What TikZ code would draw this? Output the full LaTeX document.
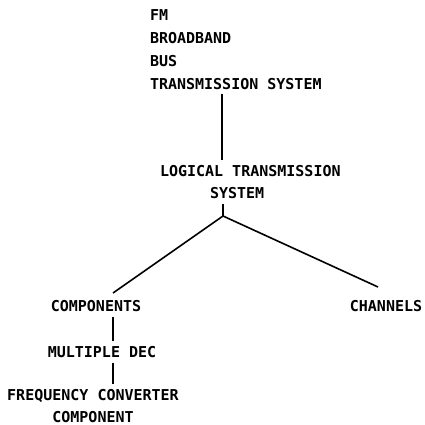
\documentclass[tikz,border=0pt]{standalone}
\usepackage{fontspec}
\newfontfamily\tymono{DejaVu Sans Mono Bold}
\usetikzlibrary{calc}

\tikzset{lbl/.style={font=\tymono\fontsize{15}{22.7}\selectfont, inner sep=0pt, outer sep=5pt}}

\begin{document}
\begin{tikzpicture}[x=1pt,y=-1pt,line width=1.6pt]
        \useasboundingbox (0,0) rectangle (425,425);
        % routine for labels
        \node[lbl,align=left,anchor=north west] (fm) at (145,5) {FM\\BROADBAND\\BUS\\TRANSMISSION SYSTEM};
        \node[lbl,align=left,anchor=north west] (lts) at (155,160) {LOGICAL TRANSMISSION\\\hspace*{50pt}SYSTEM};
        \node[lbl] (comp) at (96,306) {COMPONENTS};
        \node[lbl] (chan) at (386,306) {CHANNELS};
        \node[lbl] (mdec) at (102,352) {MULTIPLE DEC};
        \node[lbl,align=center,anchor=north] (fcc) at (93,384) {FREQUENCY CONVERTER\\COMPONENT};
        % routine for lines
        \coordinate (top) at (222,0);
        \coordinate (jn) at (223,216);
        \coordinate (cl) at (113,293);
        \coordinate (cr) at (378,287);
        \coordinate (cx) at (113,0);
        \draw (fm.south -| top) -- (lts.north -| top);
        \draw (lts.south -| jn) -- (jn);
        \draw (cl) -- (jn) -- (cr);
        \draw (comp.south -| cx) -- (mdec.north -| cx);
        \draw (mdec.south -| cx) -- (fcc.north -| cx);
        %\draw (chan.south) -- ++(0,20);
      \end{tikzpicture}
\end{document}
